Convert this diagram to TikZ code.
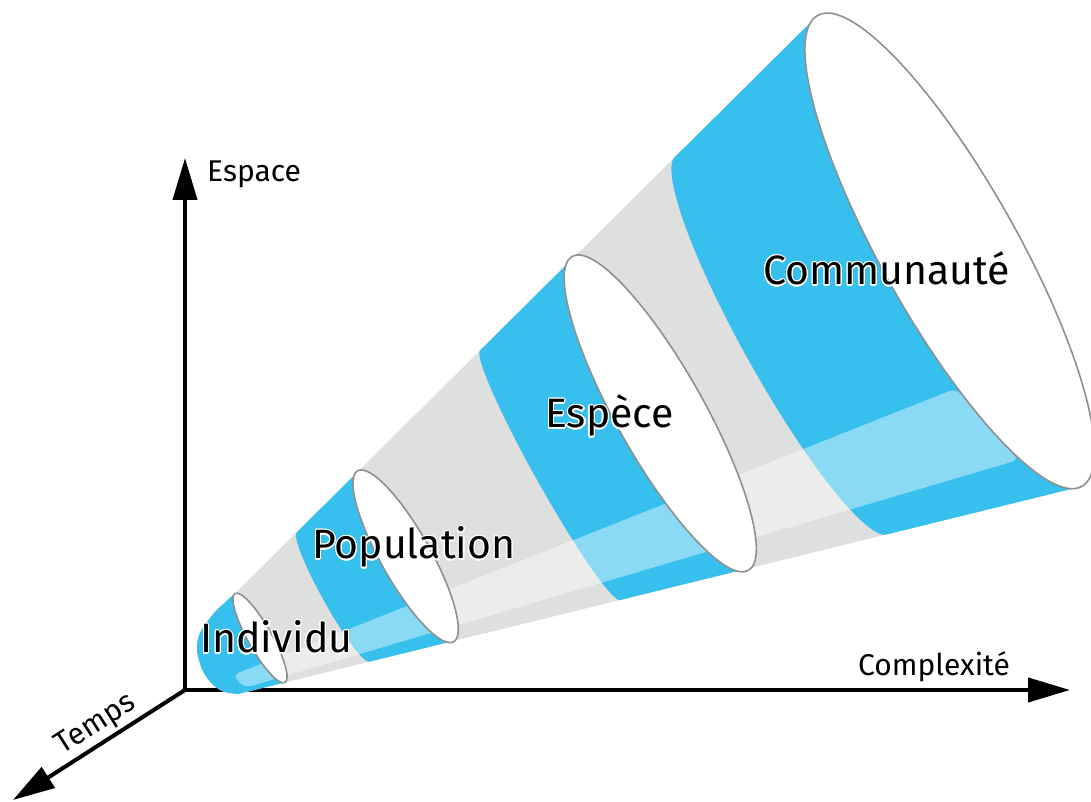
\documentclass[tikz,border=0pt]{standalone}
\usepackage{fontspec}
\setmainfont{Fira Sans}
\usepackage{contour}
\contourlength{1.2pt}
\contournumber{16}
\usepackage{tikz}
\usetikzlibrary{arrows.meta, calc}
\definecolor{coneblue}{HTML}{37BFEE}
\definecolor{conegrey}{HTML}{DEDFDF}
\definecolor{rimgrey}{HTML}{8F8F8F}
\tikzset{>={Triangle[length=42pt,width=24pt]}}
\tikzset{
  axis/.style={line width=4pt},
  axislabel/.style={font=\fontsize{30}{36}\selectfont, inner sep=0pt},
  levellabel/.style={font=\fontsize{41}{49}\selectfont, inner sep=0pt},
  band/.style={fill=coneblue},
  rim/.style={fill=white, draw=rimgrey, line width=1.6pt}
}
\newcommand{\halo}[1]{\contour{white}{#1}}

\begin{document}
\begin{tikzpicture}[x=1pt, y=1pt]
  \useasboundingbox (0,0) rectangle (1091,802);

  % axes
  \coordinate (origin) at (185,112);
  \coordinate (espace) at (185,644);
  \coordinate (complexite) at (1070,112);
  \coordinate (temps) at (13,2);
  \draw [<->, axis] (espace) -- (origin) -- (complexite);
  \draw [->, axis] (origin) -- (temps);

  \node[axislabel, anchor=base west] (espacelbl) at (207,620) {Espace};
  \node[axislabel, anchor=base west] (complexitelbl) at (858,126) {Complexité};
  \node[axislabel, rotate=32.6] (tempslbl) at (96,77) {Temps};

  % cone, drawn along its own axis
  \begin{scope}[shift={(260,164)}, rotate=29.3]
    \coordinate (individu) at (0,0);
    \coordinate (population) at (167,0);
    \coordinate (espece) at (459,0);
    \coordinate (communaute) at (791,0);

    \fill[conegrey] plot[smooth] coordinates {(0,51) (-26.6,44.7) (-50,33.7) (-61,20) (-66,0) (-64,-18) (-57,-30) (-46.6,-38.1)}
      -- (791,-270) -- (791,270) -- cycle;

    % blue rings
    \fill[band] plot[smooth] coordinates {(0,51) (-26.6,44.7) (-50,33.7) (-61,20) (-66,0) (-64,-18) (-57,-30) (-46.6,-38.1)}
      -- (0,-51) -- cycle;
    \fill[band] (84,74.3) arc[start angle=90, end angle=270, x radius=10, y radius=74.3]
      -- (167,-97.2) -- (167,97.2) -- cycle;
    \fill[band] (333,143.2) arc[start angle=90, end angle=270, x radius=14, y radius=143.2]
      -- (459,-178.1) -- (459,178.1) -- cycle;
    \fill[band] (599,216.9) arc[start angle=90, end angle=270, x radius=37, y radius=216.9]
      -- (791,-270) -- (791,270) -- cycle;

    % light streak
    \fill[white, opacity=.42, rounded corners=7pt] (-42,-19) -- (729,-123) -- (749,-216) -- (-38,-36) -- cycle;

    % openings
    \draw[rim] (individu) ellipse[x radius=12, y radius=51];
    \draw[rim] (population) ellipse[x radius=25, y radius=98];
    \draw[rim] (espece) ellipse[x radius=44, y radius=180];
    \draw[rim] (communaute) ellipse[x radius=68, y radius=270];
  \end{scope}

  \node[levellabel, anchor=base west] (individulbl) at (200,149) {\halo{Individu}};
  \node[levellabel, anchor=base west] (populationlbl) at (312,243) {\halo{Population}};
  \node[levellabel, anchor=base west] (especelbl) at (545,374) {\halo{Espèce}};
  \node[levellabel, anchor=base west] (communautelbl) at (763,517) {\halo{Communauté}};
\end{tikzpicture}
\end{document}
